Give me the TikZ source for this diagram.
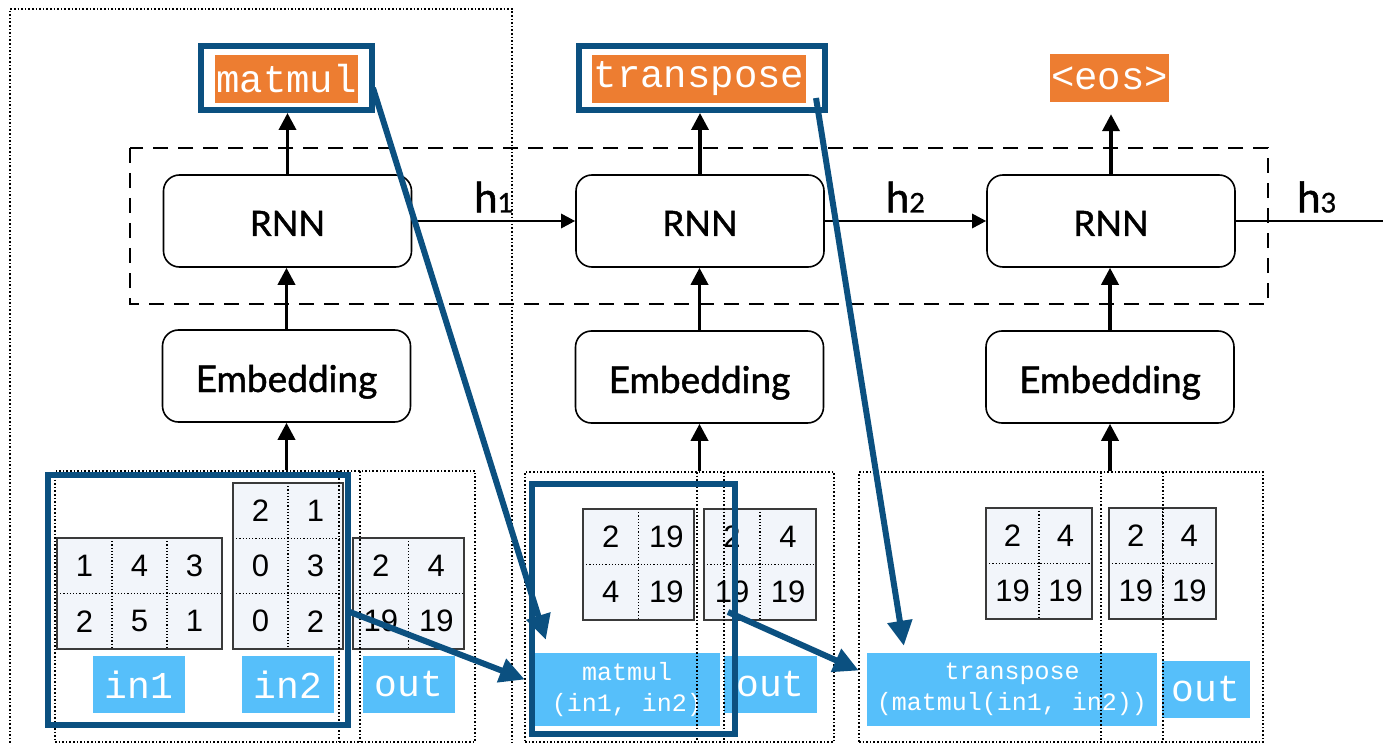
\documentclass[tikz,border=0pt]{standalone}
\usepackage{fontspec}
\setmainfont{Liberation Sans}
\newfontfamily\boxfont{Lato}[FakeBold=1.2]
\newfontfamily\codefont{Liberation Mono}
\usetikzlibrary{arrows.meta,calc}

\definecolor{codeorange}{HTML}{ED7D31}
\definecolor{tagblue}{HTML}{56BFFA}
\definecolor{frameblue}{RGB}{11,80,128}
\definecolor{cellbg}{HTML}{F2F5FA}
\definecolor{gridline}{HTML}{3A3A3A}

\tikzset{
  block/.style={draw, line width=1.6pt, rounded corners=16pt, fill=white,
    minimum width=248pt, minimum height=92pt, inner sep=0pt,
    text height=30pt, text depth=0pt,
    font=\boxfont\fontsize{35}{35}\selectfont},
  embblock/.style={block, text height=32pt, font=\boxfont\fontsize{37}{37}\selectfont},
  optag/.style={fill=codeorange, text=white, inner sep=0pt, minimum height=48pt,
    font=\codefont\fontsize{39}{39}\selectfont},
  hilite/.style={draw=frameblue, line width=6pt, inner sep=0pt},
  vartag/.style={fill=tagblue, text=white, inner sep=0pt, minimum height=57pt,
    font=\codefont\fontsize{38}{38}\selectfont},
  exprtag/.style={fill=tagblue, text=white, inner sep=0pt, align=center,
    minimum height=73pt, font=\codefont\fontsize{25}{31}\selectfont},
  hlab/.style={inner sep=0pt, font=\boxfont\fontsize{42}{42}\selectfont},
  flow/.style={line width=3.6pt, -{Triangle[length=17pt,width=17pt]}},
  recur/.style={line width=2.8pt, -{Triangle[length=14pt,width=14pt]}},
  link/.style={draw=frameblue, line width=6pt, -{Triangle[length=25pt,width=24pt]}},
  slot/.style={draw, dotted, line width=1.6pt, inner sep=0pt},
  gridin/.style={dotted, line width=1.2pt},
  gridout/.style={draw=gridline, line width=1.5pt},
  num/.style={inner sep=0pt, font=\fontsize{31}{31}\selectfont},
}

% #1 name, (#2,#3) top-left corner, #4 x #5 cell size, #6 columns, #7 rows,
% #8 entries as column/row/value
\newcommand\numgrid[8]{%
  \fill[cellbg] (#2,#3) rectangle ++(#6*#4,#7*#5);
  \foreach \c in {2,...,#6} \draw[gridin] ({#2+(\c-1)*#4},#3) -- ++(0,#7*#5);
  \foreach \r in {2,...,#7} \draw[gridin] (#2,{#3+(\r-1)*#5}) -- ++(#6*#4,0);
  \draw[gridout] (#2,#3) rectangle ++(#6*#4,#7*#5);
  \foreach \c/\r/\v in {#8}
    \node[num] (#1-\r-\c) at ({#2+(\c-0.5)*#4},{#3+(\r-0.5)*#5}) {\v};
}

\begin{document}
\begin{tikzpicture}[x=1pt,y=-1pt]
\useasboundingbox (0,0) rectangle (1383,743);

% first time step and the shared recurrent cell
\draw[dotted, line width=1.6pt] (10,743) -- (10,9) -- (512,9) -- (512,743);
\draw[line width=1.8pt, dash pattern=on 15pt off 10pt] (130,148) rectangle (1268,304);

% recurrent cells
\node[block] (rnn1) at (287.5,221) {RNN};
\node[block] (rnn2) at (700,221) {RNN};
\node[block] (rnn3) at (1111,221) {RNN};

% embeddings
\node[embblock] (emb1) at (286.5,376) {Embedding};
\node[embblock] (emb2) at (699.5,377) {Embedding};
\node[embblock] (emb3) at (1110,377) {Embedding};

% predicted operators
\node[optag, minimum width=143pt] (op1) at (286.5,79) {matmul};
\node[optag, minimum width=214pt] (op2) at (699,79) {transpose};
\node[optag, minimum width=119pt] (op3) at (1109.5,78) {<eos>};
\node[hilite, minimum width=171pt, minimum height=64pt] (opf1) at (286.5,78) {};
\node[hilite, minimum width=246pt, minimum height=64pt] (opf2) at (702,78) {};

% vertical data flow
\draw[flow] (rnn1.north) -- (rnn1.north |- opf1.south);
\draw[flow] (rnn2.north) -- (rnn2.north |- opf2.south);
\draw[flow, shorten >=12pt] (rnn3.north) -- (rnn3.north |- op3.south);
\draw[flow] (emb1.north) -- (emb1.north |- rnn1.south);
\draw[flow] (emb2.north) -- (emb2.north |- rnn2.south);
\draw[flow] (emb3.north) -- (emb3.north |- rnn3.south);

% hidden states
\coordinate (hout) at (1383,221);
\draw[recur] (rnn1.east) -- (rnn2.west);
\draw[recur] (rnn2.east) -- (rnn3.west);
\draw[line width=2.8pt] (rnn3.east) -- (hout);
\node[hlab] (h1) at ($(rnn1.east)!0.5!(rnn2.west)+(0,-24)$) {h{\fontsize{27}{27}\selectfont 1}};
\node[hlab] (h2) at ($(rnn2.east)!0.5!(rnn3.west)+(0,-24)$) {h{\fontsize{27}{27}\selectfont 2}};
\node[hlab] (h3) at ($(rnn3.east)+(81,-24)$) {h{\fontsize{27}{27}\selectfont 3}};

% ---- program state 1: inputs and expected output
\numgrid{ga}{57}{538}{55}{55.5}{3}{2}{1/1/1,2/1/4,3/1/3,1/2/2,2/2/5,3/2/1}
\numgrid{gb}{233}{483}{55}{55.3}{2}{3}{1/1/2,2/1/1,1/2/0,2/2/3,1/3/0,2/3/2}
\numgrid{gc}{353}{538}{55.5}{55.5}{2}{2}{1/1/2,2/1/4,1/2/19,2/2/19}
\node[vartag, minimum width=92pt] (in1) at (139,684.5) {in1};
\node[vartag, minimum width=92pt] (in2) at (288,684.5) {in2};
\node[vartag, minimum width=92pt] (out1) at (409,684.5) {out};

% ---- program state 2
\numgrid{gd}{583}{509}{55.5}{55.5}{2}{2}{1/1/2,2/1/19,1/2/4,2/2/19}
\numgrid{ge}{704}{509}{56}{55.5}{2}{2}{1/1/2,2/1/4,1/2/19,2/2/19}
\node[exprtag, minimum width=186pt] (mm) at (627,689.5) {matmul\\(in1, in2)};
\node[vartag, minimum width=93pt] (out2) at (770.5,684.5) {out};

% ---- program state 3
\numgrid{gf}{986}{508}{53}{55.5}{2}{2}{1/1/2,2/1/4,1/2/19,2/2/19}
\numgrid{gg}{1109}{508}{53.5}{55.5}{2}{2}{1/1/2,2/1/4,1/2/19,2/2/19}
\node[exprtag, minimum width=290pt] (tp) at (1012,689.5) {transpose\\(matmul(in1, in2))};
\node[vartag, minimum width=88pt] (out3) at (1206,689.5) {out};

% state outlines
\node[slot, minimum width=420pt, minimum height=271pt] (p1) at (265,606.5) {};
\node[slot, minimum width=309pt, minimum height=270pt] (p2) at (679.5,607) {};
\node[slot, minimum width=404pt, minimum height=270pt] (p3) at (1061,607) {};
\draw[dotted, line width=1.6pt] (339,471) -- (339,742);
\draw[dotted, line width=1.6pt] (360,471) -- (360,742);
\draw[dotted, line width=1.6pt] (697,472) -- (697,742);
\draw[dotted, line width=1.6pt] (724,472) -- (724,742);
\draw[dotted, line width=1.6pt] (1101,472) -- (1101,742);
\draw[dotted, line width=1.6pt] (1163,472) -- (1163,742);

% embedding inputs
\draw[flow] (emb1.south |- p1.north) -- (emb1.south);
\draw[flow] (emb2.south |- p2.north) -- (emb2.south);
\draw[flow] (emb3.south |- p3.north) -- (emb3.south);

% selected arguments
\node[hilite, minimum width=300pt, minimum height=250pt] (sel1) at (198,600) {};
\node[hilite, minimum width=203pt, minimum height=250pt] (sel2) at (633.5,609) {};

% how each new value is built
\draw[link] ($(opf1.east)+(-2,10)$) -- ($(mm.north west)+(12,-13)$);
\draw[link] ($(sel1.east)+(-1,12)$) -- ($(mm.west)+(-9,-10)$);
\draw[link] ($(opf2.south east)+(-12,-15)$) -- ($(tp.north west)+(37,-7)$);
\draw[link] ($(sel2.east)+(-10,3)$) -- ($(tp.west)+(-8,-19)$);
\end{tikzpicture}
\end{document}
